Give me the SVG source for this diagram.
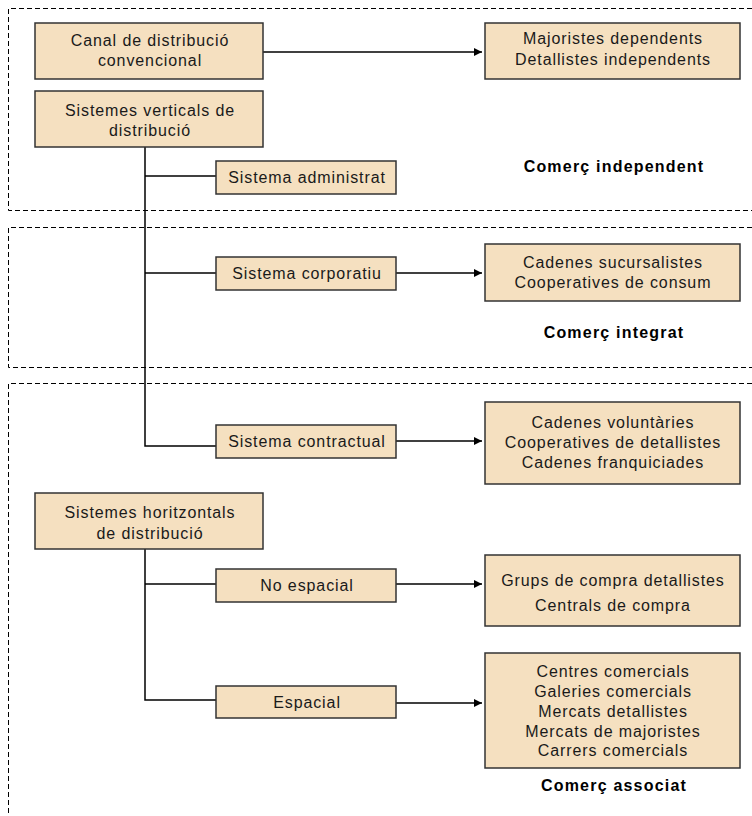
<svg xmlns="http://www.w3.org/2000/svg" width="752" height="816" viewBox="0 0 752 816">
<defs>
<style>
.zone{fill:none;stroke:#000;stroke-width:1;stroke-dasharray:5 3}
.box{fill:#F5E0C0;stroke:#333;stroke-width:1.5}
.t{font-family:"Liberation Sans",Arial,sans-serif;font-size:16px;fill:#1a1a1a;text-anchor:middle;letter-spacing:0.9px}
.b{font-family:"Liberation Sans",Arial,sans-serif;font-size:16px;font-weight:bold;fill:#000;text-anchor:middle;letter-spacing:1.2px}
.ln{fill:none;stroke:#000;stroke-width:1.5}
.ar{fill:none;stroke:#000;stroke-width:1.5;marker-end:url(#arr)}
</style>
<marker id="arr" viewBox="0 0 10 10" refX="10" refY="5" markerWidth="8" markerHeight="8" markerUnits="userSpaceOnUse" orient="auto">
<path d="M0,0 L10,5 L0,10 z" fill="#000"/>
</marker>
</defs>
<rect width="752" height="816" fill="#fff"/>
<g id="zones">
<path class="zone" d="M752,8.5 H8.5 V210.5 H752"/>
<path class="zone" d="M752,227.5 H8.5 V367.5 H752"/>
<path class="zone" d="M752,383.5 H8.5 V816"/>
</g>
<g id="connectors">
<path class="ar" d="M263,52 H482"/>
<path class="ln" d="M145,147 V446 H216"/>
<path class="ln" d="M145,176 H216"/>
<path class="ln" d="M145,273 H216"/>
<path class="ar" d="M396,273 H482"/>
<path class="ar" d="M396,441 H482"/>
<path class="ln" d="M145,549 V700 H216"/>
<path class="ln" d="M145,584 H216"/>
<path class="ar" d="M396,584 H482"/>
<path class="ar" d="M396,703 H482"/>
</g>
<g id="canal">
<rect class="box" x="35" y="23" width="228" height="56"/>
<text class="t" x="150" y="46">Canal de distribució</text>
<text class="t" x="150" y="66">convencional</text>
</g>
<g id="verticals">
<rect class="box" x="35" y="91" width="228" height="56"/>
<text class="t" x="150" y="116">Sistemes verticals de</text>
<text class="t" x="150" y="136">distribució</text>
</g>
<g id="administrat">
<rect class="box" x="216" y="161" width="180" height="33"/>
<text class="t" x="307" y="183">Sistema administrat</text>
</g>
<g id="majoristes">
<rect class="box" x="485" y="23" width="255" height="56"/>
<text class="t" x="613" y="44">Majoristes dependents</text>
<text class="t" x="613" y="65">Detallistes independents</text>
</g>
<g id="independent">
<text class="b" x="614" y="172">Comerç independent</text>
</g>
<g id="corporatiu">
<rect class="box" x="216" y="257" width="180" height="33"/>
<text class="t" x="307" y="279">Sistema corporatiu</text>
</g>
<g id="sucursalistes">
<rect class="box" x="485" y="244" width="255" height="57"/>
<text class="t" x="613" y="268">Cadenes sucursalistes</text>
<text class="t" x="613" y="288">Cooperatives de consum</text>
</g>
<g id="integrat">
<text class="b" x="614" y="338">Comerç integrat</text>
</g>
<g id="contractual">
<rect class="box" x="216" y="425" width="180" height="33"/>
<text class="t" x="307" y="447">Sistema contractual</text>
</g>
<g id="voluntaries">
<rect class="box" x="485" y="402" width="255" height="82"/>
<text class="t" x="613" y="428">Cadenes voluntàries</text>
<text class="t" x="613" y="448">Cooperatives de detallistes</text>
<text class="t" x="613" y="468">Cadenes franquiciades</text>
</g>
<g id="horitzontals">
<rect class="box" x="35" y="493" width="228" height="56"/>
<text class="t" x="150" y="518">Sistemes horitzontals</text>
<text class="t" x="150" y="539">de distribució</text>
</g>
<g id="noespacial">
<rect class="box" x="216" y="569" width="180" height="33"/>
<text class="t" x="307" y="591">No espacial</text>
</g>
<g id="espacial">
<rect class="box" x="216" y="686" width="180" height="32"/>
<text class="t" x="307" y="708">Espacial</text>
</g>
<g id="grups">
<rect class="box" x="485" y="555" width="255" height="71"/>
<text class="t" x="613" y="586">Grups de compra detallistes</text>
<text class="t" x="613" y="611">Centrals de compra</text>
</g>
<g id="centres">
<rect class="box" x="485" y="653" width="255" height="115"/>
<text class="t" x="613" y="677">Centres comercials</text>
<text class="t" x="613" y="697">Galeries comercials</text>
<text class="t" x="613" y="717">Mercats detallistes</text>
<text class="t" x="613" y="737">Mercats de majoristes</text>
<text class="t" x="613" y="756">Carrers comercials</text>
</g>
<g id="associat">
<text class="b" x="614" y="791">Comerç associat</text>
</g>
</svg>
